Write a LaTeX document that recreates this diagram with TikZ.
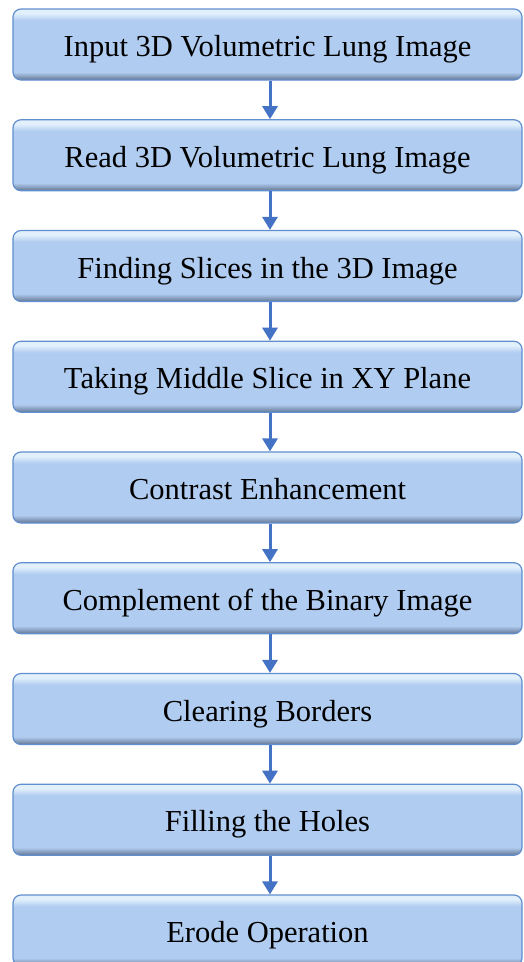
\documentclass[tikz,border=0pt]{standalone}
\usepackage{fontspec}
\setmainfont{Liberation Serif}
\usepackage{tikz}
\usetikzlibrary{arrows.meta,positioning}

\definecolor{boxmid}{RGB}{176,204,240}
\definecolor{boxtop}{RGB}{226,240,252}
\definecolor{boxbot}{RGB}{100,118,146}
\definecolor{boxline}{RGB}{96,142,206}
\definecolor{flowarrow}{RGB}{68,114,196}

% bevelled fill for the process boxes (path spans 25bp..75bp)
\pgfdeclareverticalshading{stepshade}{100bp}{%
  color(0bp)=(boxbot); color(25bp)=(boxbot); color(30.5bp)=(boxmid);
  color(67bp)=(boxmid); color(72bp)=(boxtop); color(75bp)=(boxtop);
  color(100bp)=(boxtop)}

\begin{document}
\begin{tikzpicture}[x=1pt, y=1pt,
    stepbox/.style={rectangle, rounded corners=8pt, draw=boxline, line width=1.2pt,
      shading=stepshade, minimum width=509pt, minimum height=71pt, inner sep=0pt,
      text height=28pt, text depth=4pt, font=\fontsize{30.5}{36}\selectfont},
    flow/.style={draw=flowarrow, line width=3pt, -{Triangle[width=15pt,length=13pt]}}
]
\useasboundingbox (0,0) rectangle (523,-962);

\node[stepbox] (s1) at (267.5,-44.5) {Input 3D Volumetric Lung Image};
\node[stepbox] (s2) at (267.5,-155.25) {Read 3D Volumetric Lung Image};
\node[stepbox] (s3) at (267.5,-266) {Finding Slices in the 3D Image};
\node[stepbox] (s4) at (267.5,-376.75) {Taking Middle Slice in XY Plane};
\node[stepbox] (s5) at (267.5,-487.5) {Contrast Enhancement};
\node[stepbox] (s6) at (267.5,-598.25) {Complement of the Binary Image};
\node[stepbox] (s7) at (267.5,-709) {Clearing Borders};
\node[stepbox] (s8) at (267.5,-819.75) {Filling the Holes};
\node[stepbox] (s9) at (267.5,-930.5) {Erode Operation};

\draw[flow] (s1.south -| 270,0) -- (s2.north -| 270,0);
\draw[flow] (s2.south -| 270,0) -- (s3.north -| 270,0);
\draw[flow] (s3.south -| 270,0) -- (s4.north -| 270,0);
\draw[flow] (s4.south -| 270,0) -- (s5.north -| 270,0);
\draw[flow] (s5.south -| 270,0) -- (s6.north -| 270,0);
\draw[flow] (s6.south -| 270,0) -- (s7.north -| 270,0);
\draw[flow] (s7.south -| 270,0) -- (s8.north -| 270,0);
\draw[flow] (s8.south -| 270,0) -- (s9.north -| 270,0);
\end{tikzpicture}
\end{document}
